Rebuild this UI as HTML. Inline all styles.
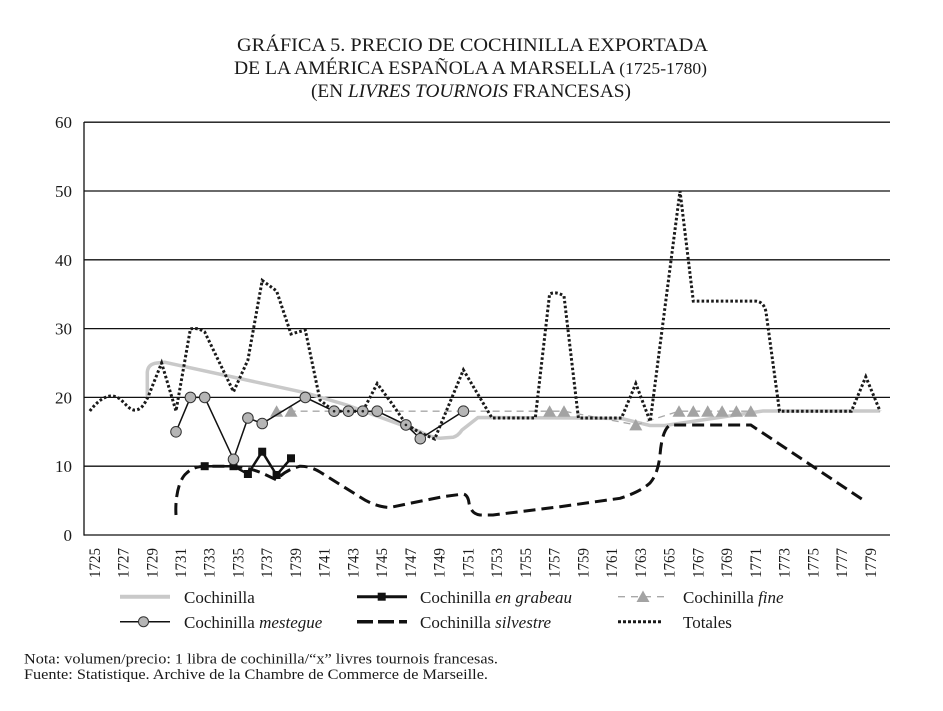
<!DOCTYPE html>
<html><head><meta charset="utf-8"><style>
html,body{margin:0;padding:0;background:#fff;}
svg{display:block;}
text{font-family:"Liberation Serif",serif;fill:#1a1a1a;}
</style></head><body>
<svg width="943" height="711" viewBox="0 0 943 711" xmlns="http://www.w3.org/2000/svg">
<!-- Title -->
<text x="237" y="51" font-size="19" textLength="471" lengthAdjust="spacingAndGlyphs">GRÁFICA 5. PRECIO DE COCHINILLA EXPORTADA</text>
<text x="234" y="74" font-size="19" textLength="473" lengthAdjust="spacingAndGlyphs">DE LA AMÉRICA ESPAÑOLA A MARSELLA <tspan font-size="17">(1725-1780)</tspan></text>
<text x="311" y="97" font-size="19" textLength="320" lengthAdjust="spacingAndGlyphs">(EN <tspan font-style="italic">LIVRES TOURNOIS</tspan> FRANCESAS)</text>

<!-- Grid -->
<g stroke="#111" stroke-width="1.3" fill="none">
<line x1="84" y1="122.2" x2="890" y2="122.2"/>
<line x1="84" y1="191" x2="890" y2="191"/>
<line x1="84" y1="259.8" x2="890" y2="259.8"/>
<line x1="84" y1="328.6" x2="890" y2="328.6"/>
<line x1="84" y1="397.4" x2="890" y2="397.4"/>
<line x1="84" y1="466.2" x2="890" y2="466.2"/>
<line x1="84" y1="535" x2="890" y2="535"/>
<line x1="84" y1="122" x2="84" y2="535.6"/>
</g>

<!-- Y labels -->
<g font-size="17" text-anchor="end">
<text x="72" y="128">60</text>
<text x="72" y="197">50</text>
<text x="72" y="266">40</text>
<text x="72" y="334.5">30</text>
<text x="72" y="403.5">20</text>
<text x="72" y="472">10</text>
<text x="72" y="541">0</text>
</g>

<!-- X labels -->
<g font-size="16">
<text transform="translate(99.8,578) rotate(-90)" textLength="30" lengthAdjust="spacingAndGlyphs">1725</text>
<text transform="translate(128.5,578) rotate(-90)" textLength="30" lengthAdjust="spacingAndGlyphs">1727</text>
<text transform="translate(157.3,578) rotate(-90)" textLength="30" lengthAdjust="spacingAndGlyphs">1729</text>
<text transform="translate(186,578) rotate(-90)" textLength="30" lengthAdjust="spacingAndGlyphs">1731</text>
<text transform="translate(214.7,578) rotate(-90)" textLength="30" lengthAdjust="spacingAndGlyphs">1733</text>
<text transform="translate(243.5,578) rotate(-90)" textLength="30" lengthAdjust="spacingAndGlyphs">1735</text>
<text transform="translate(272.2,578) rotate(-90)" textLength="30" lengthAdjust="spacingAndGlyphs">1737</text>
<text transform="translate(301,578) rotate(-90)" textLength="30" lengthAdjust="spacingAndGlyphs">1739</text>
<text transform="translate(329.7,578) rotate(-90)" textLength="30" lengthAdjust="spacingAndGlyphs">1741</text>
<text transform="translate(358.4,578) rotate(-90)" textLength="30" lengthAdjust="spacingAndGlyphs">1743</text>
<text transform="translate(387.2,578) rotate(-90)" textLength="30" lengthAdjust="spacingAndGlyphs">1745</text>
<text transform="translate(415.9,578) rotate(-90)" textLength="30" lengthAdjust="spacingAndGlyphs">1747</text>
<text transform="translate(444.7,578) rotate(-90)" textLength="30" lengthAdjust="spacingAndGlyphs">1749</text>
<text transform="translate(473.4,578) rotate(-90)" textLength="30" lengthAdjust="spacingAndGlyphs">1751</text>
<text transform="translate(502.1,578) rotate(-90)" textLength="30" lengthAdjust="spacingAndGlyphs">1753</text>
<text transform="translate(530.9,578) rotate(-90)" textLength="30" lengthAdjust="spacingAndGlyphs">1755</text>
<text transform="translate(559.6,578) rotate(-90)" textLength="30" lengthAdjust="spacingAndGlyphs">1757</text>
<text transform="translate(588.4,578) rotate(-90)" textLength="30" lengthAdjust="spacingAndGlyphs">1759</text>
<text transform="translate(617.1,578) rotate(-90)" textLength="30" lengthAdjust="spacingAndGlyphs">1761</text>
<text transform="translate(645.8,578) rotate(-90)" textLength="30" lengthAdjust="spacingAndGlyphs">1763</text>
<text transform="translate(674.6,578) rotate(-90)" textLength="30" lengthAdjust="spacingAndGlyphs">1765</text>
<text transform="translate(703.3,578) rotate(-90)" textLength="30" lengthAdjust="spacingAndGlyphs">1767</text>
<text transform="translate(732.1,578) rotate(-90)" textLength="30" lengthAdjust="spacingAndGlyphs">1769</text>
<text transform="translate(760.8,578) rotate(-90)" textLength="30" lengthAdjust="spacingAndGlyphs">1771</text>
<text transform="translate(789.5,578) rotate(-90)" textLength="30" lengthAdjust="spacingAndGlyphs">1773</text>
<text transform="translate(818.3,578) rotate(-90)" textLength="30" lengthAdjust="spacingAndGlyphs">1775</text>
<text transform="translate(847,578) rotate(-90)" textLength="30" lengthAdjust="spacingAndGlyphs">1777</text>
<text transform="translate(875.8,578) rotate(-90)" textLength="30" lengthAdjust="spacingAndGlyphs">1779</text>
</g>

<!-- Cochinilla (gray solid) -->
<path d="M147.3,397 L147.3,372 Q148,364 157,363 L165,362.3 L305,392.7 L346.7,405 L420,431.7 Q430,437 440,438.3 L453,437.3 Q458,436 462,430 L478,417.5 L578,418 L621.5,418.5 L650,425.5 L665,425.5 L763,411 L880.1,411" fill="none" stroke="#c9c9c9" stroke-width="3.5" stroke-linejoin="round"/>

<!-- Cochinilla fine (gray dashed + triangles) -->
<path d="M276.6,411.2 L564,411.2 L635.8,424.9 L679,411.2 L752.7,411.2" fill="none" stroke="#a8a8a8" stroke-width="1.3" stroke-dasharray="7 5"/>
<g fill="#a3a3a3">
<polygon points="270.1,416.7 283.1,416.7 276.6,405.2"/>
<polygon points="284.5,416.7 297.5,416.7 291,405.2"/>
<polygon points="543.1,416.7 556.1,416.7 549.6,405.2"/>
<polygon points="557.5,416.7 570.5,416.7 564,405.2"/>
<polygon points="629.3,430.4 642.3,430.4 635.8,418.9"/>
<polygon points="672.5,416.7 685.5,416.7 679,405.2"/>
<polygon points="686.8,416.7 699.8,416.7 693.3,405.2"/>
<polygon points="701.2,416.7 714.2,416.7 707.7,405.2"/>
<polygon points="715.6,416.7 728.6,416.7 722.1,405.2"/>
<polygon points="729.9,416.7 742.9,416.7 736.4,405.2"/>
<polygon points="744.3,416.7 757.3,416.7 750.8,405.2"/>
</g>

<!-- Cochinilla silvestre (black dashed) -->
<path d="M176,515 C175,500 178,480 186.7,473 C192,468 197,466.5 204.7,466.2 L233.5,466.2 Q250,468 262,473 L276.6,480 Q285,470 300,466.2 Q310,466 320,472 L360,497 Q375,507 390,507.5 L410,503.3 L443,496.7 L463.3,494 Q468,495 469,503 Q471,514 480,515 L493,515 L560,506.7 L620,498.3 Q640,492 650,483 Q658,474 660,455 Q662,430 670,425 L750.8,425 L865.8,501.7" fill="none" stroke="#111" stroke-width="3" stroke-dasharray="12 6"/>

<!-- Totales (dotted) -->
<path d="M89.8,411 C100,398 110,392 120,399 C126,404 130,411 136,410 C142,409 145,403 148,397 L161.6,363 L176,411 L190.4,329 Q197,327 204.7,332 L233.5,391.7 L247.9,360 L262.2,280.4 L276.6,291 L291,334 L305.3,330 L320,400 L334,411.2 L362.8,411.2 L377.2,383.6 L391.5,403 L406,424 L420.3,433 L434.7,439 L463.4,369.9 L492,418 L535.3,418 L549.6,294 Q556,291 564,296 L578.4,418 L621.5,418 L635.8,383.6 L650.2,421.5 L680,191 L693.3,301.1 L756,301.1 Q764,302 766,312 L779.5,411.2 L851.4,411.2 L865.8,376.8 L880.1,411.2" fill="none" stroke="#1a1a1a" stroke-width="3" stroke-dasharray="2.6 2.2"/>

<!-- Cochinilla en grabeau -->
<polyline points="204.7,466.2 233.5,466.2 247.9,474 262.2,451.7 276.6,475 291,458.3" fill="none" stroke="#111" stroke-width="2.5"/>
<g fill="#111">
<rect x="200.7" y="462.2" width="8" height="8"/>
<rect x="229.5" y="462.2" width="8" height="8"/>
<rect x="243.9" y="470" width="8" height="8"/>
<rect x="258.2" y="447.7" width="8" height="8"/>
<rect x="272.6" y="471" width="8" height="8"/>
<rect x="287" y="454.3" width="8" height="8"/>
</g>

<!-- Cochinilla mestegue -->
<polyline points="176,431.8 190.4,397.4 204.7,397.4 233.5,459.3 247.9,418 262.2,423.5 305.3,397.4 334.1,411.2 348.4,411.2 362.8,411.2 377.2,411.2 405.9,424.9 420.3,438.7 463.4,411.2" fill="none" stroke="#111" stroke-width="1.5"/>
<g fill="#b5b5b5" stroke="#333" stroke-width="1">
<circle cx="176" cy="431.8" r="5.3"/>
<circle cx="190.4" cy="397.4" r="5.3"/>
<circle cx="204.7" cy="397.4" r="5.3"/>
<circle cx="233.5" cy="459.3" r="5.3"/>
<circle cx="247.9" cy="418" r="5.3"/>
<circle cx="262.2" cy="423.5" r="5.3"/>
<circle cx="305.3" cy="397.4" r="5.3"/>
<circle cx="334.1" cy="411.2" r="5.3"/>
<circle cx="348.4" cy="411.2" r="5.3"/>
<circle cx="362.8" cy="411.2" r="5.3"/>
<circle cx="377.2" cy="411.2" r="5.3"/>
<circle cx="405.9" cy="424.9" r="5.3"/>
<circle cx="420.3" cy="438.7" r="5.3"/>
<circle cx="463.4" cy="411.2" r="5.3"/>
</g>
<g fill="#222">
<circle cx="334.1" cy="411.2" r="1.3"/>
<circle cx="348.4" cy="411.2" r="1.3"/>
<circle cx="362.8" cy="411.2" r="1.3"/>
<circle cx="405.9" cy="424.9" r="1.3"/>
</g>

<!-- Legend -->
<line x1="120" y1="596.7" x2="170" y2="596.7" stroke="#c9c9c9" stroke-width="4"/>
<text x="184" y="603" font-size="17">Cochinilla</text>
<line x1="120" y1="621.7" x2="170" y2="621.7" stroke="#111" stroke-width="1.5"/>
<circle cx="143.5" cy="621.7" r="5" fill="#b5b5b5" stroke="#333" stroke-width="1"/>
<text x="184" y="628" font-size="17">Cochinilla <tspan font-style="italic">mestegue</tspan></text>

<line x1="357" y1="596.7" x2="407" y2="596.7" stroke="#111" stroke-width="3"/>
<rect x="377.7" y="592.7" width="8" height="8" fill="#111"/>
<text x="420" y="603" font-size="17">Cochinilla <tspan font-style="italic">en grabeau</tspan></text>
<line x1="357" y1="621.7" x2="407" y2="621.7" stroke="#111" stroke-width="3.5" stroke-dasharray="16 5"/>
<text x="420" y="628" font-size="17">Cochinilla <tspan font-style="italic">silvestre</tspan></text>

<line x1="618" y1="596.7" x2="667" y2="596.7" stroke="#a8a8a8" stroke-width="1.3" stroke-dasharray="7 6"/>
<polygon points="636.5,602 649.5,602 643,590.5" fill="#a3a3a3"/>
<text x="683" y="603" font-size="17">Cochinilla <tspan font-style="italic">fine</tspan></text>
<line x1="618" y1="621.7" x2="662" y2="621.7" stroke="#1a1a1a" stroke-width="3" stroke-dasharray="3 2"/>
<text x="683" y="628" font-size="17">Totales</text>

<!-- Notes -->
<text x="24" y="663.5" font-size="14.5" textLength="474" lengthAdjust="spacingAndGlyphs">Nota: volumen/precio: 1 libra de cochinilla/“x” livres tournois francesas.</text>
<text x="24" y="679" font-size="14.5" textLength="464" lengthAdjust="spacingAndGlyphs">Fuente: Statistique. Archive de la Chambre de Commerce de Marseille.</text>
</svg>
</body></html>
